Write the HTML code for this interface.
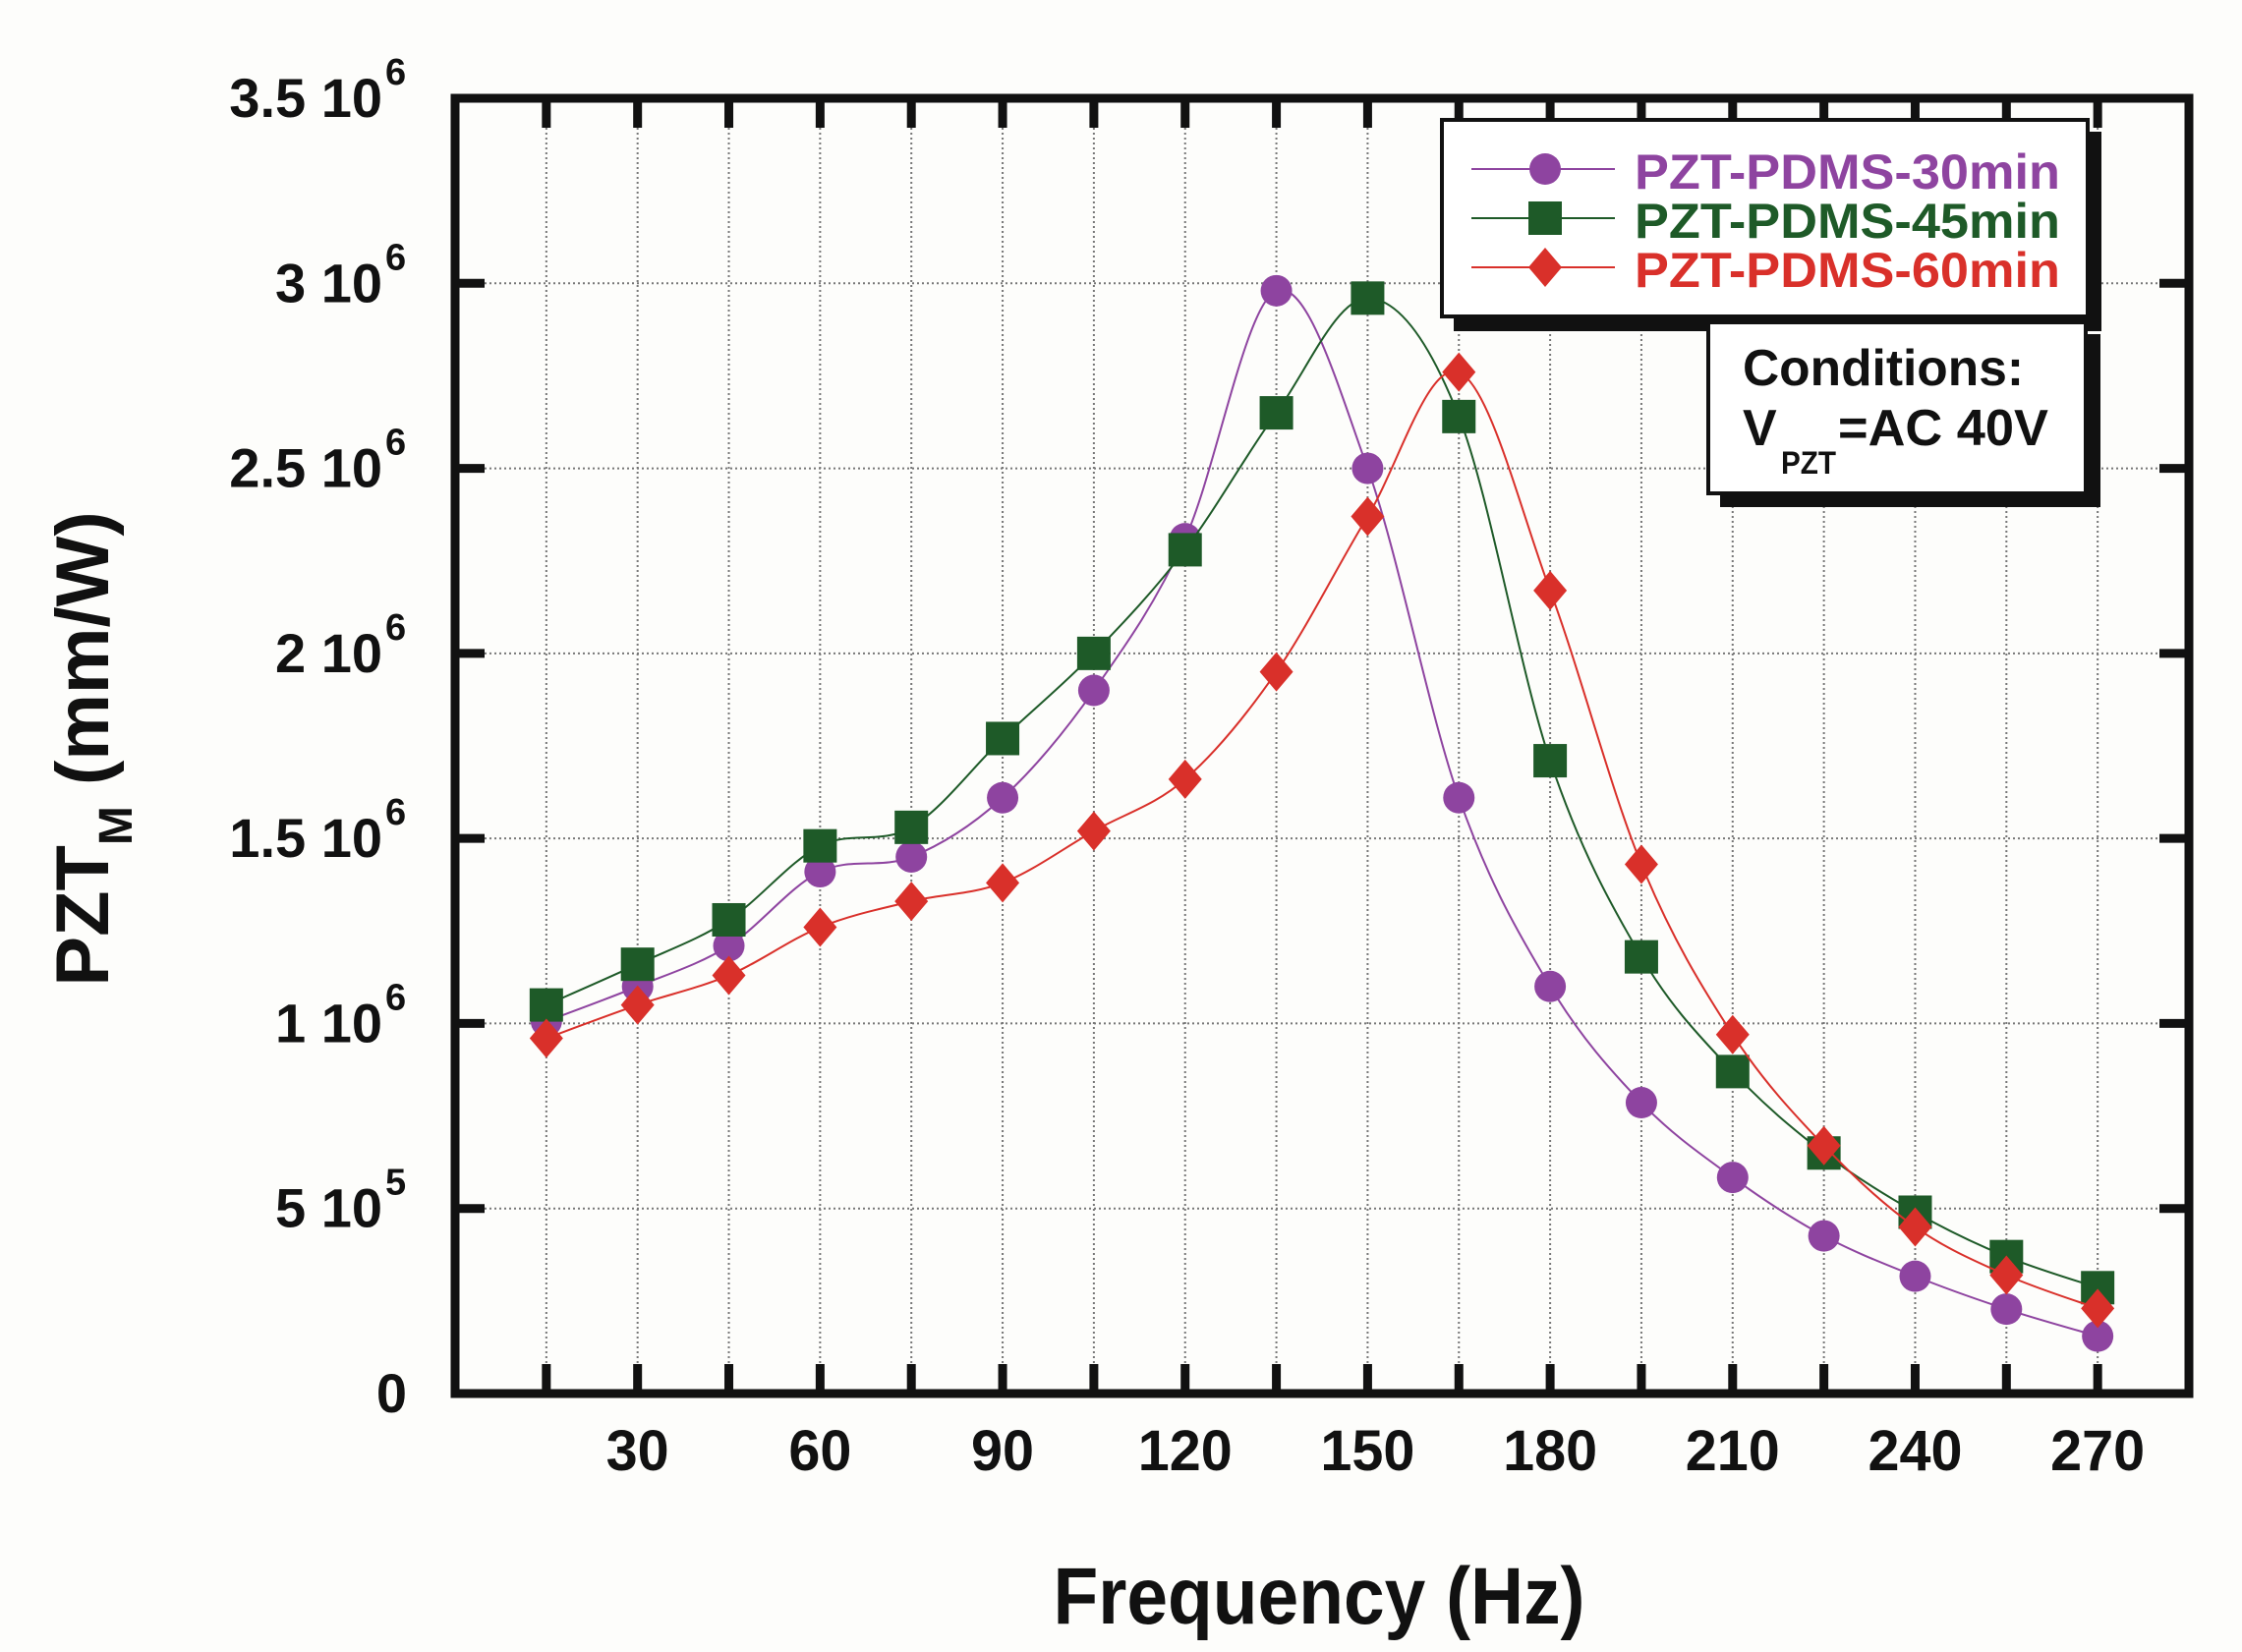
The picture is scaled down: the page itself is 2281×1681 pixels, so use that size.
<!DOCTYPE html>
<html><head><meta charset="utf-8"><style>
html,body{margin:0;padding:0;background:#fdfdfb;}
svg{display:block;font-family:"Liberation Sans",sans-serif;font-weight:bold;}
</style></head><body>
<svg id="chart" width="2281" height="1681" viewBox="0 0 2281 1681" xmlns="http://www.w3.org/2000/svg">
<rect x="0" y="0" width="2281" height="1681" fill="#fdfdfb"/>
<g id="grid"></g>
<g id="series"></g>
<g id="axes"></g>
<g id="legend">
  <rect x="1479" y="134" width="659" height="203" fill="#111"/>
  <rect x="1467" y="122" width="657" height="200" fill="#fff" stroke="#111" stroke-width="4"/>
  <g>
    <line x1="1497" y1="172" x2="1643" y2="172" stroke="#8e44a0" stroke-width="2"/>
    <circle cx="1572" cy="172" r="16" fill="#8e44a0"/>
    <text x="1663" y="192" font-size="50" fill="#8e44a0" textLength="433" lengthAdjust="spacingAndGlyphs">PZT-PDMS-30min</text>
  </g>
  <g>
    <line x1="1497" y1="222" x2="1643" y2="222" stroke="#1e5a28" stroke-width="2"/>
    <rect x="1555" y="205" width="34" height="34" fill="#1e5a28"/>
    <text x="1663" y="242" font-size="50" fill="#1e5a28" textLength="433" lengthAdjust="spacingAndGlyphs">PZT-PDMS-45min</text>
  </g>
  <g>
    <line x1="1497" y1="272" x2="1643" y2="272" stroke="#d9302a" stroke-width="2"/>
    <polygon points="1572,252 1589,272 1572,292 1555,272" fill="#d9302a"/>
    <text x="1663" y="292" font-size="50" fill="#d9302a" textLength="433" lengthAdjust="spacingAndGlyphs">PZT-PDMS-60min</text>
  </g>
  <rect x="1750" y="340" width="387" height="176" fill="#111"/>
  <rect x="1738" y="328" width="384" height="174" fill="#fff" stroke="#111" stroke-width="4"/>
  <text x="1773" y="392" font-size="52" fill="#111" textLength="286" lengthAdjust="spacingAndGlyphs">Conditions:</text>
  <text x="1773" y="453" font-size="52" fill="#111">V</text>
  <text x="1812" y="482" font-size="32" fill="#111" textLength="56" lengthAdjust="spacingAndGlyphs">PZT</text>
  <text x="1870" y="453" font-size="52" fill="#111" textLength="214" lengthAdjust="spacingAndGlyphs">=AC 40V</text>
</g>
<text x="1342" y="1652" font-size="82" fill="#111" text-anchor="middle" textLength="541" lengthAdjust="spacingAndGlyphs">Frequency (Hz)</text>
<g transform="translate(110,762) rotate(-90)">
  <text x="0" y="0" font-size="76" fill="#111" text-anchor="middle">PZT<tspan font-size="48" dy="24">M</tspan><tspan dy="-24"> (mm/W)</tspan></text>
</g>
</svg>
<script>
const freqs = [15,30,45,60,75,90,105,120,135,150,165,180,195,210,225,240,255,270];
const s30 = [1.006,1.10,1.21,1.41,1.45,1.61,1.90,2.31,2.98,2.50,1.61,1.10,0.786,0.584,0.426,0.317,0.228,0.155];
const s45 = [1.05,1.16,1.28,1.48,1.53,1.77,2.00,2.28,2.65,2.96,2.64,1.71,1.18,0.87,0.65,0.49,0.37,0.286];
const s60 = [0.96,1.05,1.13,1.26,1.33,1.38,1.52,1.66,1.95,2.37,2.76,2.17,1.43,0.97,0.67,0.45,0.32,0.23];
const xTickLabels = ["30","60","90","120","150","180","210","240","270"];
const xTickValues = [30,60,90,120,150,180,210,240,270];
const yTickMain = ["0","5 10","1 10","1.5 10","2 10","2.5 10","3 10","3.5 10"];
const yTickExp = ["","5","6","6","6","6","6","6"];
const yTickValues = [0,0.5,1,1.5,2,2.5,3,3.5];

const L=463,R=2227,T=100,B=1418;
const X0=0,X1=285,Y0=0,Y1=3.5;
const xs=v=>L+(v-X0)/(X1-X0)*(R-L);
const ys=v=>B-(v-Y0)/(Y1-Y0)*(B-T);
const NS="http://www.w3.org/2000/svg";
function mk(tag,attrs,parent){const e=document.createElementNS(NS,tag);for(const k in attrs)e.setAttribute(k,attrs[k]);parent.appendChild(e);return e;}
const grid=document.getElementById('grid'),axes=document.getElementById('axes'),series=document.getElementById('series');

// vertical grid + ticks at every 15
for(let f=15;f<=270;f+=15){
  const x=xs(f);
  const g=mk('line',{x1:x,y1:T,x2:x,y2:B,stroke:'#777','stroke-width':2,'stroke-dasharray':'2,3'},grid);
  
  
  const t1=mk('line',{x1:x,y1:B,x2:x,y2:B-30,stroke:'#111','stroke-width':9},axes);
  
  
  const t2=mk('line',{x1:x,y1:T,x2:x,y2:T+30,stroke:'#111','stroke-width':9},axes);
  
  
}
xTickValues.forEach((v,i)=>{
  const t=mk('text',{x:xs(v),y:1496,'font-size':58,fill:'#111','text-anchor':'middle',textLength:xTickLabels[i].length*32,lengthAdjust:'spacingAndGlyphs'},axes);
  t.textContent=xTickLabels[i];
  
  
});
yTickValues.forEach((v,i)=>{
  const y=ys(v);
  if(v>0&&v<3.5){
    const g=mk('line',{x1:L,y1:y,x2:R,y2:y,stroke:'#777','stroke-width':2,'stroke-dasharray':'2,3'},grid);
    
    
  }
  const t1=mk('line',{x1:L,y1:y,x2:L+30,y2:y,stroke:'#111','stroke-width':9},axes);
  
  
  const t2=mk('line',{x1:R,y1:y,x2:R-30,y2:y,stroke:'#111','stroke-width':9},axes);
  
  
  const main=mk('text',{x:yTickExp[i]?389:414,y:y+19,'font-size':56,fill:'#111','text-anchor':'end'},axes);
  main.textContent=yTickMain[i];
  
  
  if(yTickExp[i]){
    const sp=mk('text',{x:392,y:y-14,'font-size':38,fill:'#111'},axes);
    sp.textContent=yTickExp[i];
    
    
  }
});
const frame=mk('rect',{x:L,y:T,width:R-L,height:B-T,fill:'none',stroke:'#111','stroke-width':9},axes);



function smooth(pts){
  let d=`M${pts[0][0]},${pts[0][1]}`;
  for(let i=0;i<pts.length-1;i++){
    const p0=pts[Math.max(0,i-1)],p1=pts[i],p2=pts[i+1],p3=pts[Math.min(pts.length-1,i+2)];
    const c1=[p1[0]+(p2[0]-p0[0])/6,p1[1]+(p2[1]-p0[1])/6];
    const c2=[p2[0]-(p3[0]-p1[0])/6,p2[1]-(p3[1]-p1[1])/6];
    d+=` C${c1[0]},${c1[1]} ${c2[0]},${c2[1]} ${p2[0]},${p2[1]}`;
  }
  return d;
}
function drawSeries(vals,color,shape,name){
  const g=mk('g',{},series);
  
  
  const pts=freqs.map((f,i)=>[xs(f),ys(vals[i])]);
  const p=mk('path',{d:smooth(pts),fill:'none',stroke:color,'stroke-width':2},g);
  
  
  pts.forEach(([x,y])=>{
    let m;
    if(shape==='circle') m=mk('circle',{cx:x,cy:y,r:16,fill:color},g);
    else if(shape==='square') m=mk('rect',{x:x-17,y:y-17,width:34,height:34,fill:color},g);
    else m=mk('polygon',{points:`${x},${y-20} ${x+17},${y} ${x},${y+20} ${x-17},${y}`,fill:color},g);
    
    
  });
}
drawSeries(s30,'#8e44a0','circle','series-30min');
drawSeries(s45,'#1e5a28','square','series-45min');
drawSeries(s60,'#d9302a','diamond','series-60min');
</script>
</body></html>
